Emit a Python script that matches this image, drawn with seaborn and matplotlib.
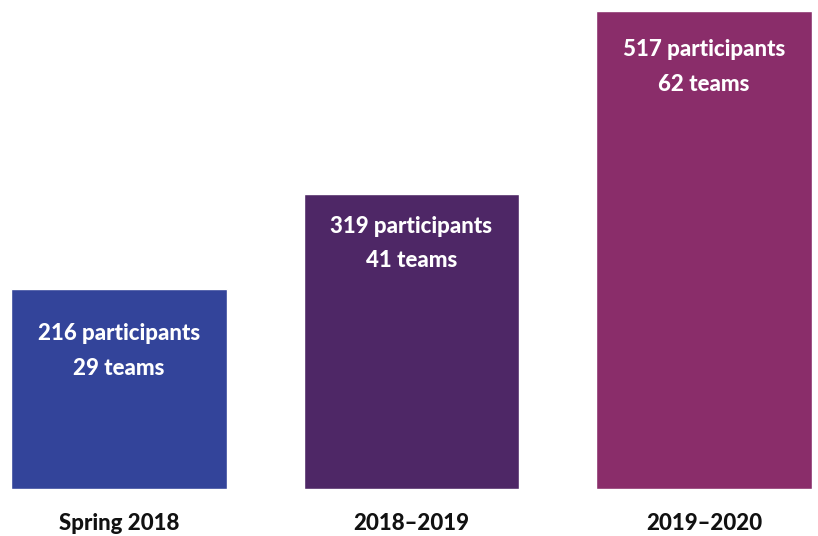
import matplotlib
matplotlib.use('Agg')
import matplotlib.pyplot as plt
import seaborn as sns
import pandas as pd

# values
seasons = ['Spring 2018', '2018\u20132019', '2019\u20132020']
participants = [216, 319, 517]
teams = [29, 41, 62]
colors = ['#33449a', '#4e2766', '#8a2d6a']

df = pd.DataFrame({'season': seasons, 'participants': participants, 'teams': teams})

sns.set_theme(style='white')
plt.rcParams['font.family'] = ['Lato', 'DejaVu Sans']

fig = plt.figure(figsize=(8.18, 5.36), dpi=100)
ax = fig.add_axes([0, 47 / 536, 1, 489 / 536])

sns.barplot(data=df, x='season', y='participants', hue='season', order=seasons,
            palette=colors, saturation=1, width=0.738, legend=False, ax=ax)

ax.set_xlim(-119 / 292.5, 699 / 292.5)
ax.set_ylim(0, 489 / 478 * 517)

# label offsets below the bar top (points)
first_off = [32, 23, 28]
line_gap = 25
for i, row in df.iterrows():
    ax.annotate(f"{row.participants} participants", (i, row.participants),
                xytext=(0, -first_off[i]), textcoords='offset points',
                ha='center', va='center', color='white', fontsize=16, fontweight='black')
    ax.annotate(f"{row.teams} teams", (i, row.participants),
                xytext=(0, -first_off[i] - line_gap), textcoords='offset points',
                ha='center', va='center', color='white', fontsize=16, fontweight='black')

ax.set_xlabel('')
ax.set_ylabel('')
ax.set_yticks([])
ax.tick_params(axis='x', length=0, pad=17)
for lbl in ax.get_xticklabels():
    lbl.set_fontsize(16)
    lbl.set_fontweight('black')
    lbl.set_color('#111111')
sns.despine(left=True, bottom=True, top=True, right=True)

fig.savefig('out.png', dpi=100)
